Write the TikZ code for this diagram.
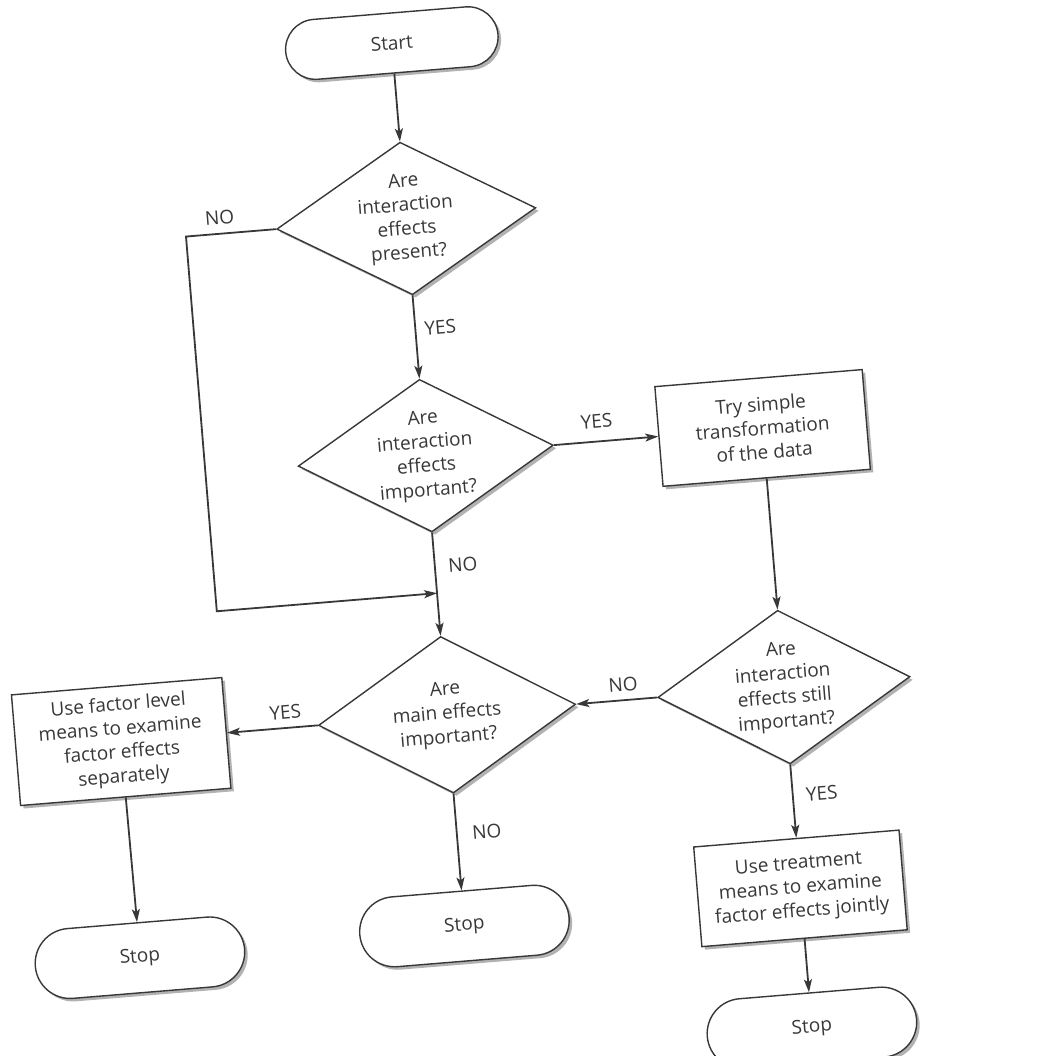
\documentclass[tikz,border=0pt]{standalone}
\usepackage{fontspec}
\setmainfont{Open Sans}
\usetikzlibrary{arrows.meta,shapes.geometric,shadows}
\definecolor{ink}{HTML}{383838}
\begin{document}
\begin{tikzpicture}[x=1pt,y=-1pt,
  every node/.style={font=\fontsize{19}{24}\selectfont, text=ink},
  base/.style={draw=ink, line width=1.4pt, fill=white,
    drop shadow={shadow xshift=3pt, shadow yshift=-3pt, fill=black!55, opacity=0.55}},
  startbox/.style={base, rectangle, rounded corners=30pt, minimum width=213pt, minimum height=60pt, inner sep=0pt},
  stopbox/.style={base, rectangle, rounded corners=35pt, minimum width=210pt, minimum height=70pt, inner sep=0pt},
  procbox/.style={base, rectangle, inner sep=0pt, align=center},
  dia/.style={base, diamond, inner sep=0pt},
  dtext/.style={align=center, inner sep=0pt},
  lbl/.style={inner sep=0pt},
  arr/.style={draw=ink, line width=1.8pt, -{Stealth[length=13pt,width=8pt,inset=3pt]}}
]
\fill[white] (0,0) rectangle (1045,1056);
\useasboundingbox (0,0) rectangle (1045,1056);
\begin{scope}[rotate around={4.7:(522,528)}, transform shape]
  % terminals
  \node[startbox] (start) at (432,34) {Start};
  % diamonds
  \node[dia, minimum width=260pt, minimum height=153pt] (d1) at (432,210) {};
  \node[dtext] (t1) at (d1) {Are\\interaction\\effects\\present?};
  \node[dia, minimum width=256pt, minimum height=153pt] (d2) at (432,448) {};
  \node[dtext] (t2) at (d2) {Are\\interaction\\effects\\important?};
  \node[dia, minimum width=258pt, minimum height=157pt] (d3) at (432,708) {};
  \node[dtext] (t3) at (d3) {Are\\main effects\\important?};
  \node[dia, minimum width=253pt, minimum height=154pt] (d4) at (770,708) {};
  \node[dtext] (t4) at (d4) {Are\\interaction\\effects still\\important?};
  % process boxes
  \node[procbox, minimum width=208pt, minimum height=100pt] (b1) at (770,448) {Try simple\\transformation\\of the data};
  \node[procbox, minimum width=211pt, minimum height=111pt] (b2) at (105,708) {Use factor level\\means to examine\\factor effects\\separately};
  \node[procbox, minimum width=206pt, minimum height=100pt] (b3) at (770,910) {Use treatment\\means to examine\\factor effects jointly};
  % stops
  \node[stopbox] (s1) at (106,925) {Stop};
  \node[stopbox] (s2) at (432,920) {Stop};
  \node[stopbox] (s3) at (770,1050) {Stop};
  % helper coordinates
  \coordinate (c1) at (211,210);
  \coordinate (c2) at (211,586);
  \coordinate (m) at (432,586);
  % connectors
  \draw[arr] (start.south) -- (d1.north);
  \draw[arr] (d1.south) -- (d2.north);
  \draw[arr] (d1.west) -- (c1) -- (c2) -- (m);
  \draw[arr] (d2.south) -- (d3.north);
  \draw[arr] (d2.east) -- (b1.west);
  \draw[arr] (b1.south) -- (d4.north);
  \draw[arr] (d4.west) -- (d3.east);
  \draw[arr] (d4.south) -- (b3.north);
  \draw[arr] (b3.south) -- (s3.north);
  \draw[arr] (d3.west) -- (b2.east);
  \draw[arr] (b2.south) -- (s1.north);
  \draw[arr] (d3.south) -- (s2.north);
  % labels
  \node[lbl] (l1) at (246,194) {NO};
  \node[lbl] (l2) at (457,321) {YES};
  \node[lbl] (l3) at (605,428) {YES};
  \node[lbl] (l4) at (460,560) {NO};
  \node[lbl] (l5) at (610,692) {NO};
  \node[lbl] (l6) at (271,692) {YES};
  \node[lbl] (l7) at (799,817) {YES};
  \node[lbl] (l8) at (462,828) {NO};
\end{scope}
\end{tikzpicture}
\end{document}
